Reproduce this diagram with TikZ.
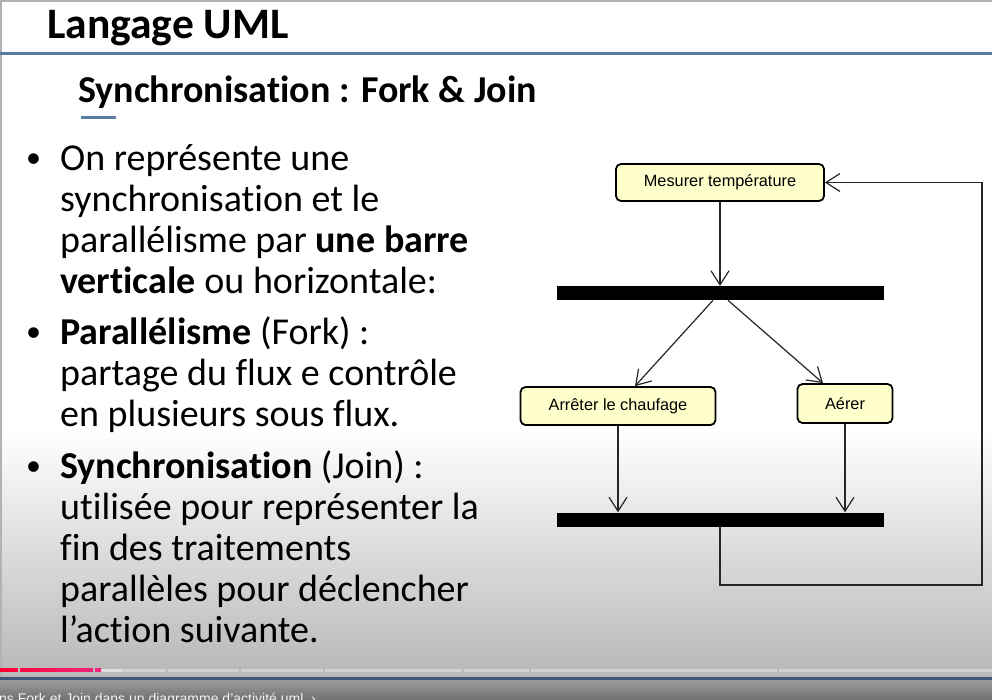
\documentclass[tikz,border=0pt]{standalone}
\usepackage{fontspec}
\setmainfont{Carlito}[Ligatures=NoCommon]
\newfontfamily\diagfont{Liberation Sans}
\usetikzlibrary{arrows.meta, positioning}

\definecolor{umlyellow}{RGB}{255,255,204}
\definecolor{ruleblue}{RGB}{90,124,163}
\definecolor{slidegray}{RGB}{186,186,186}
\definecolor{playred}{RGB}{255,0,51}
\definecolor{playpink}{RGB}{240,40,125}
\definecolor{bandblue}{RGB}{63,87,117}

\begin{document}
\begin{tikzpicture}[
    x=1pt, y=-1pt,
    action/.style={draw, line width=1.8pt, rounded corners=5pt, fill=umlyellow, inner sep=0pt,
        font=\diagfont\fontsize{16.3}{19}\selectfont},
    syncbar/.style={fill=black, inner sep=0pt, minimum width=327pt, minimum height=14pt},
    flow/.style={draw=black!85, line width=1.2pt, -{Straight Barb[length=14pt, width=18pt]}},
    bullettext/.style={anchor=base west, align=left, inner sep=0pt, font=\fontsize{38}{41}\selectfont},
    bulletdot/.style={anchor=base west, inner sep=0pt, font=\fontsize{30}{41}\selectfont},
]
    \useasboundingbox (0,0) rectangle (992,699);
    \clip (0,0) rectangle (992,699);

    % Slide background
    \fill[white] (0,0) rectangle (992,699);
    \shade[top color=white, bottom color=slidegray] (0,430) rectangle (992,668);
    \fill[slidegray] (0,668) rectangle (992,677);
    \draw[gray!60, line width=1.5pt] (0.75,699) -- (0.75,0.75) -- (992,0.75);

    % Title
    \node (title) [anchor=base west, inner sep=0pt, font=\bfseries\fontsize{43.5}{48}\selectfont] at (47,38) {Langage UML};
    \draw[ruleblue, line width=3pt] (0,53) -- (992,53);
    \node (subtitle) [anchor=base west, inner sep=0pt, font=\bfseries\fontsize{38}{42}\selectfont] at (78,102) {Synchronisation : Fork \& Join};
    \draw[ruleblue, line width=3pt] (81,117) -- (116,117);

    % Bullets (a multi-line node sits on its last baseline)
    \node (b1) [bullettext] at (60,293) {On représente une\\synchronisation et le\\parallélisme par \textbf{une barre}\\\textbf{verticale} ou horizontale:};
    \node (b2) [bullettext] at (60,426) {\textbf{Parallélisme} (Fork) :\\partage du flux e contrôle\\en plusieurs sous flux.};
    \node (b3) [bullettext] at (60,642) {\textbf{Synchronisation} (Join) :\\utilisée pour représenter la\\fin des traitements\\parallèles pour déclencher\\l’action suivante.};
    \node (d1) [bulletdot] at (26,167) {•};
    \node (d2) [bulletdot] at (26,341) {•};
    \node (d3) [bulletdot] at (26,475) {•};

    % Activity diagram
    \node (mesurer) [action, minimum width=208pt, minimum height=37pt] at (720,182.5) {Mesurer température};
    \node (fork) [syncbar, below=84pt of mesurer] {};
    \node (arreter) [action, minimum width=195pt, minimum height=38pt] at (618,406) {Arrêter le chaufage};
    \node (aerer) [action, minimum width=95pt, minimum height=39pt] at (845,403.5) {Aérer};
    \node (join) [syncbar] at (720,519.5) {};
    \coordinate (loopturn) at (982,585);

    \draw[flow] (mesurer) -- (fork);
    \draw[flow] ([xshift=-7pt]fork.south) -- ([xshift=17pt]arreter.north);
    \draw[flow] ([xshift=8pt]fork.south) -- ([xshift=-22pt]aerer.north);
    \draw[flow] (arreter) -- (arreter |- join.north);
    \draw[flow] (aerer) -- (aerer |- join.north);
    \draw[flow] (join.south) |- (loopturn) |- (mesurer.east);

    % Player bar
    \fill[black!18] (0,668.5) rectangle (992,671.5);
    \fill[black!12] (101,668.5) rectangle (122,671.5);
    \foreach \gap in {166,239,323,462,529,777}
        \fill[slidegray] (\gap,668) rectangle (\gap+1.5,672);
    \shade[left color=playred, right color=playpink] (0,668.5) rectangle (101,671.5);
    \fill[slidegray] (18,668) rectangle (20,672);
    \fill[slidegray] (93,668) rectangle (95,672);
    \fill[bandblue] (0,676.5) rectangle (992,680.5);
    \shade[top color=black!40, bottom color=black!55] (0,680.5) rectangle (992,699);
    \node (videotitle) [anchor=base west, inner sep=0pt, text=black!5, font=\diagfont\fontsize{14}{15}\selectfont] at (-1,703) {ns Fork et Join dans un diagramme d’activité uml \ ›};
\end{tikzpicture}
\end{document}
